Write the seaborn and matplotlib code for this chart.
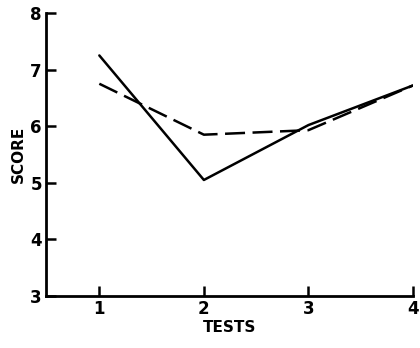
import matplotlib
matplotlib.use("Agg")
import matplotlib.pyplot as plt
import seaborn as sns
import pandas as pd

tests = [1, 2, 3, 4]
solid_scores = [7.25, 5.05, 6.02, 6.72]
dashed_scores = [6.75, 5.85, 5.93, 6.72]
y_ticks = [3, 4, 5, 6, 7, 8]
x_ticks = [1, 2, 3, 4]

df = pd.DataFrame({
    "TESTS": tests + tests,
    "SCORE": solid_scores + dashed_scores,
    "group": ["A"] * 4 + ["B"] * 4,
})

sns.set_style("white")
plt.rcParams["font.family"] = ["DejaVu Sans"]

fig = plt.figure(figsize=(4.2, 3.48), dpi=100)
ax = fig.add_axes([46 / 420, 52 / 348, (413 - 46) / 420, (296 - 13) / 348])

sns.lineplot(data=df, x="TESTS", y="SCORE", style="group",
             dashes={"A": "", "B": (8, 3)}, color="black", linewidth=1.8,
             legend=False, ax=ax)

ax.set_xlim(0.49, 4)
ax.set_ylim(3, 8)
ax.set_xticks(x_ticks)
ax.set_yticks(y_ticks)
ax.set_xticklabels([str(t) for t in x_ticks], fontweight="bold", fontsize=12)
ax.set_yticklabels([str(t) for t in y_ticks], fontweight="bold", fontsize=12)
ax.tick_params(bottom=True, left=True, direction="in", length=7, width=1.8,
               pad=3, colors="black")
for s in ["top", "right"]:
    ax.spines[s].set_visible(False)
for s in ["left", "bottom"]:
    ax.spines[s].set_linewidth(2)
    ax.spines[s].set_color("black")
ax.set_xlabel("TESTS", fontweight="bold", fontsize=11, labelpad=1, color="black")
ax.set_ylabel("SCORE", fontweight="bold", fontsize=11, labelpad=3, color="black")
ax.grid(False)

fig.savefig("out.png", dpi=100, facecolor="white")
